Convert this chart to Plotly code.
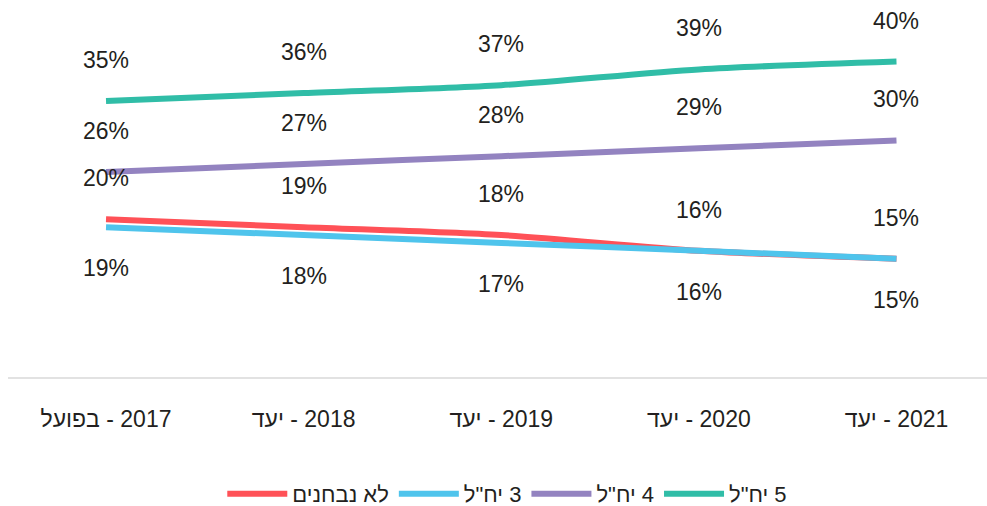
import plotly.graph_objects as go

categories = ["2017 - בפועל", "2018 - יעד", "2019 - יעד", "2020 - יעד", "2021 - יעד"]
not_tested = [20, 19, 18, 16, 15]
units_3 = [19, 18, 17, 16, 15]
units_4 = [26, 27, 28, 29, 30]
units_5 = [35, 36, 37, 39, 40]
series_names = ["לא נבחנים", '3 יח"ל', '4 יח"ל', '5 יח"ל']
series_values = [not_tested, units_3, units_4, units_5]
colors = ["#ff5157", "#4fc4ec", "#9383c0", "#30bda7"]
label_shift = [41, -41, 41, 41]

FONT = "Liberation Sans Narrow, Liberation Sans, Arial, sans-serif"
TXT = "#231f20"


def rtl(s):
    return "\u202B" + s + "\u202C"


fig = go.Figure()
for name, vals, col in zip(series_names, series_values, colors):
    fig.add_trace(go.Scatter(
        x=categories, y=vals, name=rtl(name), mode="lines",
        line=dict(color=col, width=6, shape="spline", smoothing=0.8),
        hoverinfo="skip",
    ))

annotations = []
for vals, sh in zip(series_values, label_shift):
    for c, v in zip(categories, vals):
        annotations.append(dict(
            x=c, y=v, text=f"{v}%", showarrow=False, yshift=sh,
            font=dict(family=FONT, size=23, color=TXT),
        ))

fig.update_layout(
    width=987, height=506,
    margin=dict(l=8, r=0, t=0, b=129, autoexpand=False),
    paper_bgcolor="white", plot_bgcolor="white",
    showlegend=True,
    legend=dict(
        orientation="h", x=0.51, xanchor="center", y=-0.31, yanchor="middle",
        font=dict(family=FONT, size=22, color=TXT),
        itemwidth=60, traceorder="normal",
    ),
    xaxis=dict(
        type="category", range=[-0.496, 4.458],
        tickvals=categories, ticktext=[rtl(c) for c in categories],
        showgrid=False, zeroline=False,
        showline=True, linecolor="#e2e2e2", linewidth=2,
        ticks="", ticklabelstandoff=20,
        tickfont=dict(family=FONT, size=23, color=TXT),
        fixedrange=True,
    ),
    yaxis=dict(
        range=[0, 47.8], visible=False, showgrid=False, zeroline=False,
        fixedrange=True,
    ),
    annotations=annotations,
)

fig.write_html(
    "out.html",
    config={"displayModeBar": False},
    post_script="document.body.style.margin='0';document.body.style.overflow='hidden';",
)
